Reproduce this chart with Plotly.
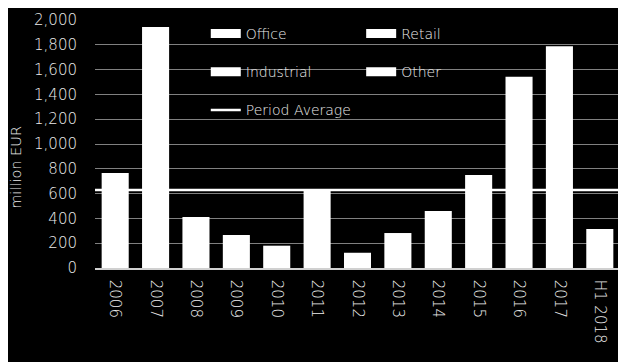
import plotly.graph_objects as go

years = ["2006", "2007", "2008", "2009", "2010", "2011", "2012",
         "2013", "2014", "2015", "2016", "2017", "H1 2018"]
totals = [766, 1943, 411, 266, 180, 635, 123, 282, 460, 750, 1543, 1788, 314]
period_average = 630
legend_left = ["Office", "Industrial"]
legend_right = ["Retail", "Other"]
y_ticks = [0, 200, 400, 600, 800, 1000, 1200, 1400, 1600, 1800, 2000]

FONT = "DejaVu Sans"
TXT = "#ececec"
W = 300

fig = go.Figure()
fig.add_trace(go.Bar(x=years, y=totals, marker=dict(color="white", line=dict(width=0)),
                     showlegend=False, hoverinfo="x+y"))

for i, name in enumerate(legend_left):
    fig.add_trace(go.Scatter(x=[None], y=[None], mode="lines", name=name,
                             line=dict(color="white", width=9),
                             legend="legend", legendgroup="l%d" % i))
fig.add_trace(go.Scatter(x=[None], y=[None], mode="lines", name="Period Average",
                         line=dict(color="white", width=2.5),
                         legend="legend", legendgroup="l9"))
for i, name in enumerate(legend_right):
    fig.add_trace(go.Scatter(x=[None], y=[None], mode="lines", name=name,
                             line=dict(color="white", width=9),
                             legend="legend2", legendgroup="r%d" % i))

fig.add_shape(type="line", xref="paper", x0=0, x1=1, yref="y",
              y0=period_average, y1=period_average,
              line=dict(color="white", width=2.5), layer="above")

fig.add_annotation(text="million EUR", xref="paper", yref="paper",
                   x=-0.151, y=0.407, xanchor="center", yanchor="middle",
                   textangle=-90, showarrow=False,
                   font=dict(family=FONT, size=14.5, color=TXT, weight=W))

leg_common = dict(orientation="v", bgcolor="rgba(0,0,0,0)", borderwidth=0,
                  font=dict(family=FONT, size=14, color=TXT, weight=W),
                  tracegroupgap=17, traceorder="grouped", itemwidth=30,
                  xanchor="left", yanchor="top")

fig.update_layout(
    width=618, height=354,
    paper_bgcolor="black", plot_bgcolor="black",
    margin=dict(l=87, r=6, t=12, b=94, autoexpand=False),
    font=dict(family=FONT, size=14, color=TXT, weight=W),
    bargap=0.33,
    barmode="stack",
    legend=dict(x=0.211, y=1.008, **leg_common),
    legend2=dict(x=0.507, y=1.008, **leg_common),
    xaxis=dict(type="category", tickangle=90, showgrid=False,
               showline=True, linecolor="#d0d0d0", linewidth=1.5,
               ticks="", tickfont=dict(family=FONT, size=15, color=TXT, weight=W),
               ticklabelstandoff=7),
    yaxis=dict(range=[0, 2000], tickvals=y_ticks, tickformat=",d",
               showgrid=True, gridcolor="#808080", gridwidth=1,
               zeroline=False, ticks="", ticklabelstandoff=17,
               tickfont=dict(family=FONT, size=15, color=TXT, weight=W)),
)

fig.write_html("out.html")
